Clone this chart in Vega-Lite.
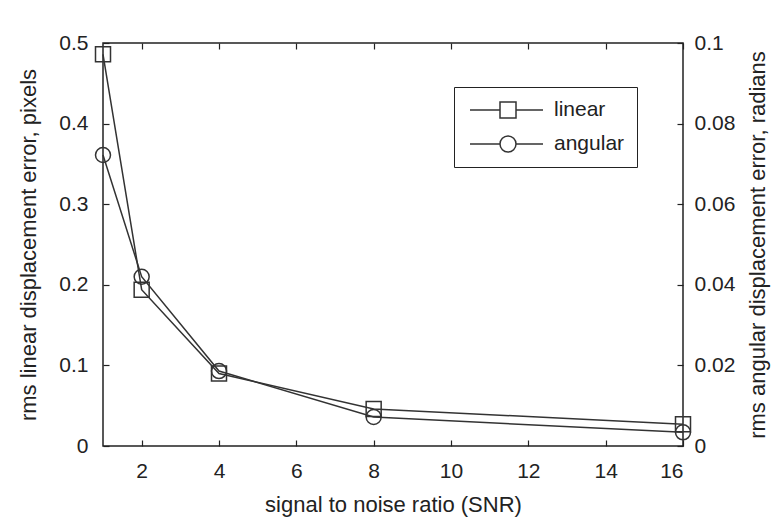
{
  "$schema": "https://vega.github.io/schema/vega-lite/v6.json",
  "width": 580,
  "height": 403,
  "autosize": {"type": "none"},
  "padding": {"left": 103, "top": 43, "right": 100, "bottom": 79},
  "background": "white",
  "config": {
    "font": "Liberation Sans",
    "view": {"stroke": "#222", "strokeWidth": 1.5},
    "axis": {
      "domain": false,
      "grid": false,
      "tickColor": "#222",
      "tickSize": -6,
      "tickWidth": 1.2,
      "labelColor": "#222",
      "labelFontSize": 21,
      "labelFont": "Liberation Sans",
      "titleColor": "#222",
      "titleFontSize": 22,
      "titleFont": "Liberation Sans",
      "titleFontWeight": "normal"
    }
  },
  "data": {
    "values": [
      {"snr": 1, "series": "linear", "value": 0.486},
      {"snr": 2, "series": "linear", "value": 0.194},
      {"snr": 4, "series": "linear", "value": 0.09},
      {"snr": 8, "series": "linear", "value": 0.046},
      {"snr": 16, "series": "linear", "value": 0.027},
      {"snr": 1, "series": "angular", "value": 0.0722},
      {"snr": 2, "series": "angular", "value": 0.042},
      {"snr": 4, "series": "angular", "value": 0.0186},
      {"snr": 8, "series": "angular", "value": 0.0072},
      {"snr": 16, "series": "angular", "value": 0.0034}
    ]
  },
  "layer": [
    {
      "transform": [{"filter": "datum.series === 'linear'"}],
      "encoding": {
        "x": {
          "field": "snr",
          "type": "quantitative",
          "scale": {"domain": [1, 16], "nice": false, "zero": false},
          "axis": {
            "orient": "bottom",
            "values": [2, 4, 6, 8, 10, 12, 14, 16],
            "labelPadding": 20,
            "title": "signal to noise ratio (SNR)",
            "titlePadding": 13
          }
        },
        "y": {
          "field": "value",
          "type": "quantitative",
          "scale": {"domain": [0, 0.5], "nice": false},
          "axis": {
            "orient": "left",
            "values": [0, 0.1, 0.2, 0.3, 0.4, 0.5],
            "format": "~g",
            "labelPadding": 21,
            "title": "rms linear displacement error, pixels",
            "titlePadding": 18
          }
        }
      },
      "layer": [
        {"mark": {"type": "line", "color": "#333", "strokeWidth": 1.5}},
        {"mark": {"type": "point", "shape": "square", "filled": false, "color": "#333", "size": 225, "strokeWidth": 1.5, "opacity": 1}},
        {
          "transform": [{"filter": "false"}],
          "mark": {"type": "point", "filled": false, "color": "#333", "strokeWidth": 1.5, "opacity": 1},
          "encoding": {
            "shape": {
              "field": "series",
              "type": "nominal",
              "scale": {
                "domain": ["linear", "angular"],
                "range": [
                  "M-0.7,0H2.3M3.9,0H6.6M2.3,-0.8H3.9V0.8H2.3Z",
                  "M-0.7,0H2.3M3.9,0H6.6M2.3,0A0.8,0.8 0 1,1 3.9,0A0.8,0.8 0 1,1 2.3,0Z"
                ]
              },
              "legend": {
                "title": null,
                "orient": "none",
                "legendX": 351,
                "legendY": 44,
                "fillColor": "white",
                "strokeColor": "#222",
                "padding": 12,
                "symbolSize": 400,
                "symbolStrokeColor": "#333",
                "symbolStrokeWidth": 1.5,
                "symbolFillColor": "transparent",
                "symbolOpacity": 1,
                "labelFontSize": 21,
                "labelColor": "#222",
                "labelOffset": 66,
                "rowPadding": 12
              }
            }
          }
        }
      ]
    },
    {
      "transform": [{"filter": "datum.series === 'angular'"}],
      "encoding": {
        "x": {
          "field": "snr",
          "type": "quantitative",
          "scale": {"domain": [1, 16], "nice": false, "zero": false},
          "axis": {
            "orient": "top",
            "values": [2, 4, 6, 8, 10, 12, 14, 16],
            "labels": false,
            "title": null
          }
        },
        "y": {
          "field": "value",
          "type": "quantitative",
          "scale": {"domain": [0, 0.1], "nice": false},
          "axis": {
            "orient": "right",
            "values": [0, 0.02, 0.04, 0.06, 0.08, 0.1],
            "format": "~g",
            "labelPadding": 17,
            "title": "rms angular displacement error, radians",
            "titleAngle": 270,
            "titlePadding": 35
          }
        }
      },
      "layer": [
        {"mark": {"type": "line", "color": "#333", "strokeWidth": 1.5}},
        {"mark": {"type": "point", "shape": "circle", "filled": false, "color": "#333", "size": 225, "strokeWidth": 1.5, "opacity": 1}}
      ]
    }
  ],
  "resolve": {"scale": {"y": "independent"}, "axis": {"x": "independent"}}
}
